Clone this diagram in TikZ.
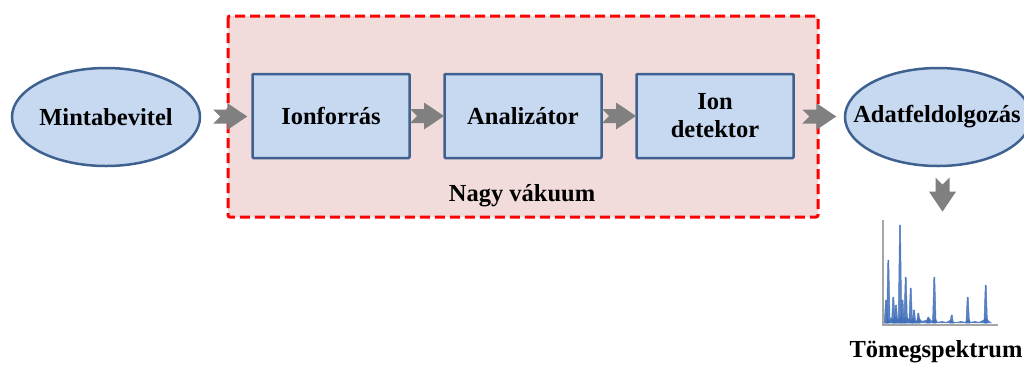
\documentclass[tikz,border=0pt]{standalone}
\usepackage{fontspec}
\setmainfont{Liberation Serif}
\usetikzlibrary{shapes.geometric,calc}
\definecolor{boxfill}{HTML}{C6D9F1}
\definecolor{boxline}{HTML}{3F6190}
\definecolor{pinkfill}{HTML}{F2DCDB}
\definecolor{arrowgray}{HTML}{808080}
\definecolor{specblue}{HTML}{3E6DB8}
\definecolor{axisgray}{HTML}{A6A6A6}
\tikzset{
  txt/.style={font=\bfseries\fontsize{24.5}{28}\selectfont, align=center, text=black},
  stagebox/.style={txt, draw=boxline, line width=2.5pt, fill=boxfill, rounded corners=1pt,
     minimum width=157pt, minimum height=84pt, inner sep=0pt},
  stageell/.style={ellipse, draw=boxline, line width=2.5pt, fill=boxfill,
     minimum height=98pt, inner sep=0pt},
  vacbox/.style={draw=red, line width=3pt, dash pattern=on 10pt off 5pt, fill=pinkfill, rounded corners=2pt},
  pics/garrow/.style={code={
    \fill[arrowgray] (-17,-7) -- (-3,-7) -- (-3,-13.5) -- (17,0) -- (-3,13.5) -- (-3,7) -- (-17,7) -- (-10,0) -- cycle;
  }},
  spike/.style={fill=specblue, draw=specblue, line width=0.5pt, opacity=0.85}
}
\begin{document}
\begin{tikzpicture}[x=1pt,y=-1pt]
\useasboundingbox (0,0) rectangle (1024,365);
\begin{scope}
\clip (0,0) rectangle (1024,365);
% vacuum region
\draw[vacbox] (228,16) rectangle (818,217);
\node[txt] (vac) at (522,196) {Nagy vákuum};
% stages
\node[stageell, minimum width=188pt] (minta) at (106,117) {};
\node[txt] (mintatxt) at (minta) {Mintabevitel};
\node[stagebox] (ionf) at (331,116) {Ionforrás};
\node[stagebox] (anal) at (523,116) {Analizátor};
\node[stagebox] (iond) at (715,116) {Ion\\detektor};
\node[stageell, minimum width=186pt] (adat) at (938,117) {};
\node[txt] (adattxt) at (937,117) {Adatfeldolgozás};
% arrows
\pic at ($(minta.east)!0.5!(ionf.west)+(4,0)$) {garrow};
\pic at ($(ionf.east)!0.5!(anal.west)$) {garrow};
\pic at ($(anal.east)!0.5!(iond.west)$) {garrow};
\pic at ($(iond.east)!0.5!(adat.west)$) {garrow};
\coordinate (spec) at (941,222);
\pic[rotate=-90] at ($(adat.south)!0.5!(spec)+(3,0)$) {garrow};
% spectrum
\draw[axisgray, line width=1.6pt] (883,220) -- (883,325) -- (998,325);
\fill[specblue, opacity=0.85] (885,323)
  -- (887,318) -- (889,321) -- (891,317) -- (893,320) -- (896,316) -- (898,320)
  -- (901,315) -- (904,319) -- (907,317) -- (910,320) -- (913,318) -- (916,321)
  -- (919,318) -- (922,321) -- (926,320) -- (929,318) -- (932,321) -- (935,319)
  -- (938,322) -- (942,321) -- (946,322) -- (950,320) -- (953,322) -- (957,322)
  -- (961,321) -- (965,322) -- (968,319) -- (971,322) -- (975,321) -- (979,322)
  -- (983,320) -- (986,318) -- (989,321) -- (992,323) -- cycle;
\foreach \px/\py in {888.3/260, 893.3/297, 900/225, 905.7/277, 910.7/288, 918.3/313,
                     928.3/317, 934.3/277, 951.7/315, 967.7/297, 985.7/285,
                     896/305, 902.5/300, 914/310, 886/300}
  \fill[spike] (\px-1.8,323) -- (\px-0.5,\py) -- (\px+0.5,\py) -- (\px+1.8,323) -- cycle;
\node[txt] (tomeg) at (936,352) {Tömegspektrum};
\end{scope}
\end{tikzpicture}
\end{document}
